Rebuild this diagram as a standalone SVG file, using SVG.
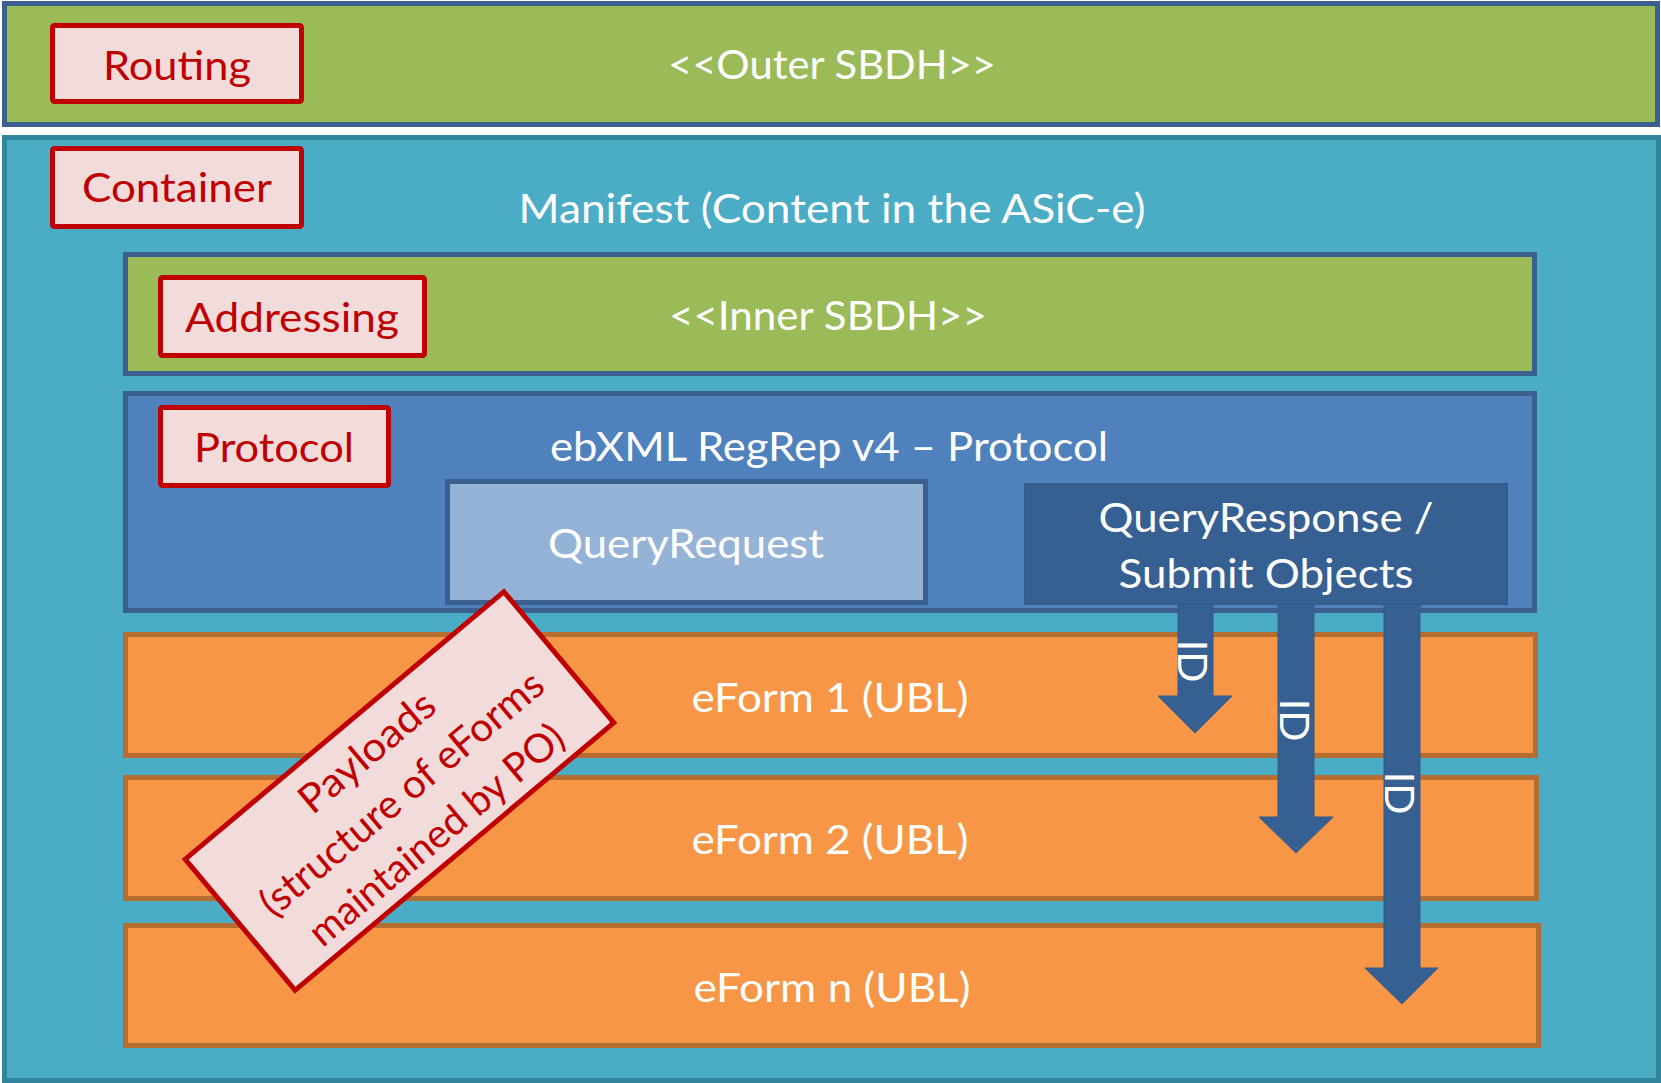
<svg xmlns="http://www.w3.org/2000/svg" width="1661" height="1083" viewBox="0 0 1661 1083">
  <style>
    text { font-family: Lato, "Open Sans", "Liberation Sans", sans-serif; }
    .w { fill: #FFFFFF; font-size: 41px; text-anchor: middle; }
    .r { fill: #C00000; font-size: 41px; text-anchor: middle; }
    .rp { fill: #C00000; font-size: 40px; text-anchor: middle; }
    .lbl { fill: #F2DCDB; stroke: #C00000; stroke-width: 5; }
    .green { fill: #9BBB59; stroke: #3B5F8E; stroke-width: 5; }
    .teal { fill: #4BACC6; stroke: #31849B; stroke-width: 5; }
    .blue { fill: #4F81BD; stroke: #3B5F8E; stroke-width: 5; }
    .lblue { fill: #95B3D7; stroke: #3B5F8E; stroke-width: 5; }
    .dblue { fill: #366092; stroke: #33598A; stroke-width: 1; }
    .orange { fill: #F79646; stroke: #B66D31; stroke-width: 5; }
    .arrow { fill: #366092; stroke: #33598A; stroke-width: 1; }
  </style>

  <g id="outer-sbdh">
    <rect class="green" x="4.5" y="3.5" width="1653" height="121"/>
    <text class="w" x="832" y="79" textLength="328" lengthAdjust="spacingAndGlyphs">&lt;&lt;Outer SBDH&gt;&gt;</text>
  </g>

  <g id="manifest">
    <rect class="teal" x="4.5" y="137.5" width="1654" height="943"/>
    <text class="w" x="832" y="223" textLength="627" lengthAdjust="spacingAndGlyphs">Manifest (Content in the ASiC-e)</text>
  </g>

  <g id="inner-sbdh">
    <rect class="green" x="125.5" y="254.5" width="1409" height="119"/>
    <text class="w" x="828" y="330" textLength="318" lengthAdjust="spacingAndGlyphs">&lt;&lt;Inner SBDH&gt;&gt;</text>
  </g>

  <g id="protocol-area">
    <rect class="blue" x="125.5" y="393.5" width="1409" height="217"/>
    <text class="w" x="829" y="461" textLength="558" lengthAdjust="spacingAndGlyphs">ebXML RegRep v4 – Protocol</text>
  </g>

  <g id="query-request">
    <rect class="lblue" x="447.5" y="481.5" width="478" height="121"/>
    <text class="w" x="686" y="558" textLength="276" lengthAdjust="spacingAndGlyphs">QueryRequest</text>
  </g>

  <g id="query-response">
    <rect class="dblue" x="1024.5" y="483.5" width="483" height="121"/>
    <text class="w" x="1266" y="532" textLength="335" lengthAdjust="spacingAndGlyphs">QueryResponse /</text>
    <text class="w" x="1266" y="588" textLength="295" lengthAdjust="spacingAndGlyphs">Submit Objects</text>
  </g>

  <g id="eform-1">
    <rect class="orange" x="125.5" y="634.5" width="1410" height="121"/>
    <text class="w" x="830" y="712" textLength="277" lengthAdjust="spacingAndGlyphs">eForm 1 (UBL)</text>
  </g>

  <g id="eform-2">
    <rect class="orange" x="125.5" y="777.5" width="1411" height="121"/>
    <text class="w" x="830" y="854" textLength="277" lengthAdjust="spacingAndGlyphs">eForm 2 (UBL)</text>
  </g>

  <g id="eform-n">
    <rect class="orange" x="125.5" y="925.5" width="1413" height="120"/>
    <text class="w" x="832" y="1002" textLength="277" lengthAdjust="spacingAndGlyphs">eForm n (UBL)</text>
  </g>

  <g id="connectors">
    <g id="id-arrow-1">
      <polygon class="arrow" points="1178,604 1213,604 1213,696 1232,696 1195,733 1158,696 1178,696"/>
      <text class="w" transform="translate(1178,661) rotate(90)" x="0" y="0">ID</text>
    </g>
    <g id="id-arrow-2">
      <polygon class="arrow" points="1278,604 1314,604 1314,817 1333,817 1296,853 1259,817 1278,817"/>
      <text class="w" transform="translate(1280,720) rotate(90)" x="0" y="0">ID</text>
    </g>
    <g id="id-arrow-3">
      <polygon class="arrow" points="1384,604 1420,604 1420,968 1438,968 1402,1004 1365,968 1384,968"/>
      <text class="w" transform="translate(1385,793) rotate(90)" x="0" y="0">ID</text>
    </g>
  </g>

  <g id="routing">
    <rect class="lbl" x="52.5" y="25.5" width="249" height="76" rx="2"/>
    <text class="r" x="177" y="80" textLength="148" lengthAdjust="spacingAndGlyphs">Routing</text>
  </g>

  <g id="container">
    <rect class="lbl" x="52.5" y="148.5" width="249" height="78" rx="2"/>
    <text class="r" x="177" y="202" textLength="190" lengthAdjust="spacingAndGlyphs">Container</text>
  </g>

  <g id="addressing">
    <rect class="lbl" x="160.5" y="277.5" width="264" height="78" rx="2"/>
    <text class="r" x="292" y="332" textLength="214" lengthAdjust="spacingAndGlyphs">Addressing</text>
  </g>

  <g id="protocol">
    <rect class="lbl" x="160.5" y="407.5" width="228" height="78" rx="2"/>
    <text class="r" x="274" y="462" textLength="160" lengthAdjust="spacingAndGlyphs">Protocol</text>
  </g>

  <g id="payloads" transform="translate(399.5,791) rotate(-40)">
    <rect class="lbl" x="-208" y="-85.5" width="416" height="171"/>
    <text class="rp" x="0" y="-37" textLength="165" lengthAdjust="spacingAndGlyphs">Payloads</text>
    <text class="rp" x="0" y="17" textLength="357" lengthAdjust="spacingAndGlyphs">(structure of eForms</text>
    <text class="rp" x="0" y="71" textLength="320" lengthAdjust="spacingAndGlyphs">maintained by PO)</text>
  </g>
</svg>
